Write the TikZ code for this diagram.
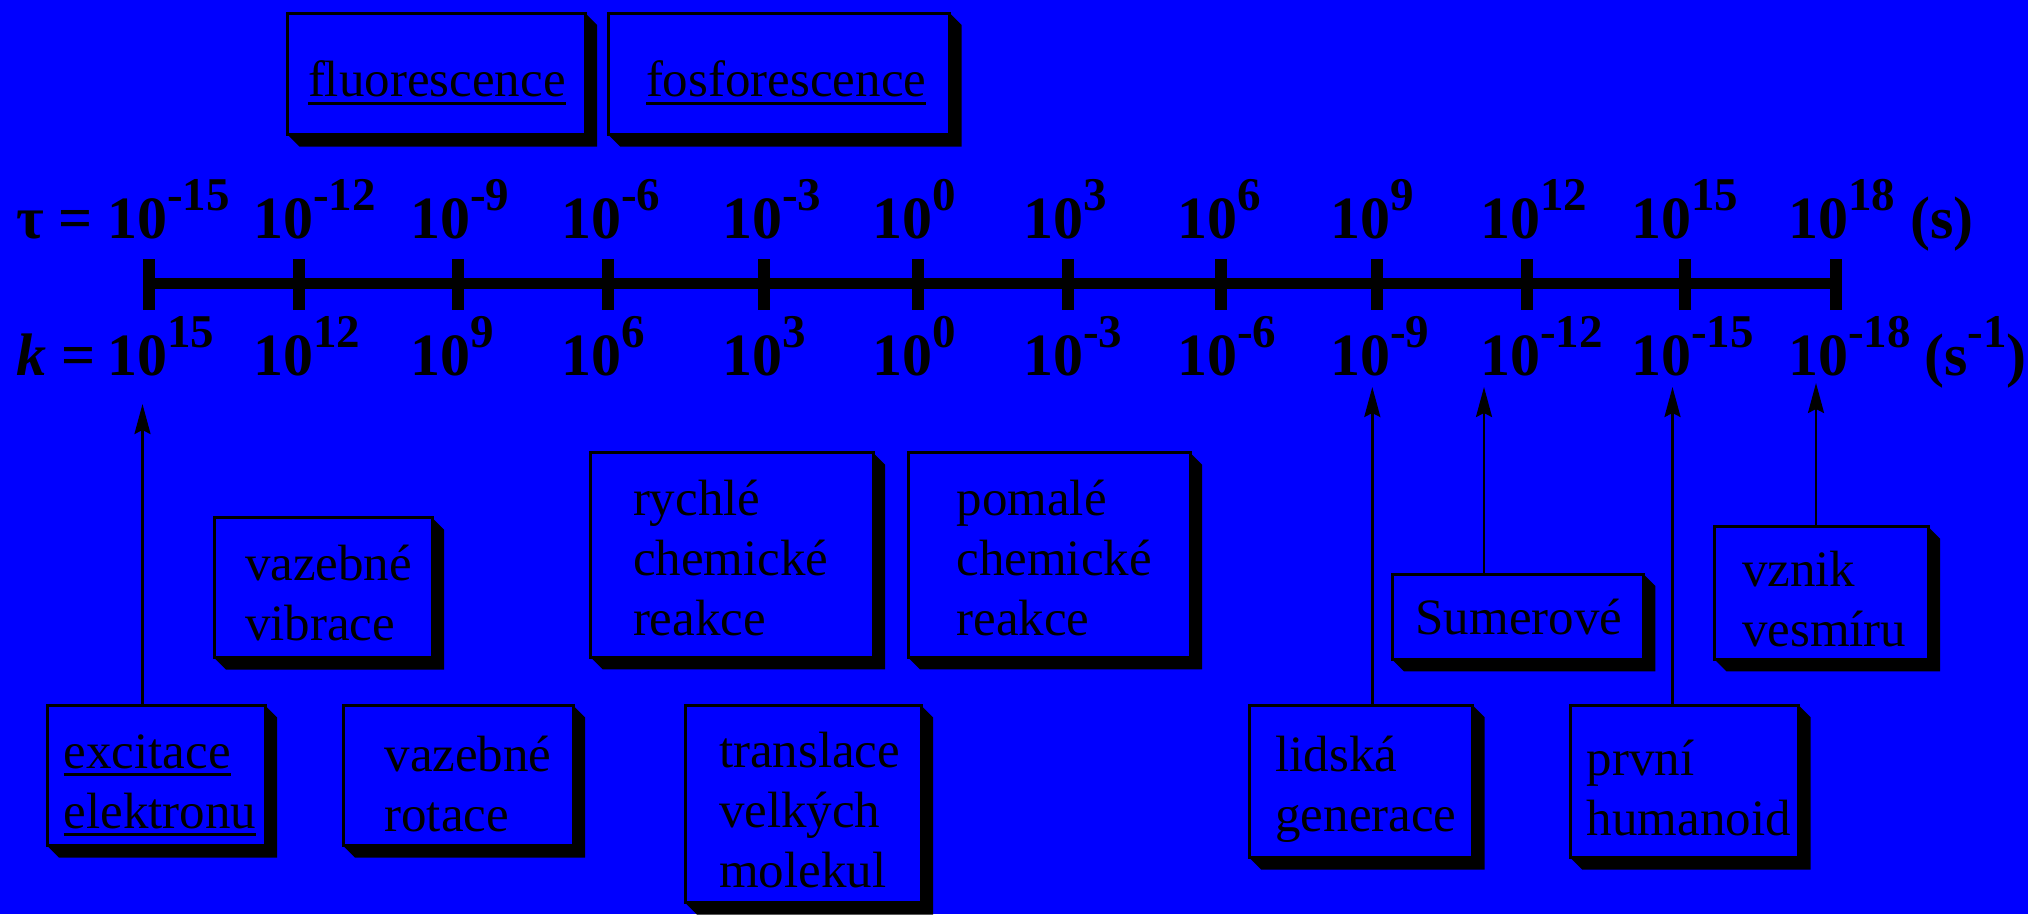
\documentclass[tikz,border=0pt]{standalone}
\usepackage{fontspec}
\setmainfont{Liberation Serif}
\usepackage{tikz}
\usetikzlibrary{arrows.meta,calc}
\definecolor{slide}{RGB}{0,0,255}
\newcommand{\boxfont}{\fontsize{51}{60}\selectfont}
\newcommand{\numfont}{\fontsize{60}{72}\selectfont\bfseries}
\newcommand{\sx}[1]{\raisebox{28pt}{\fontsize{47}{56}\selectfont #1}}
\newcommand{\uln}[1]{\leavevmode\setbox0\hbox{#1}\rlap{\rule[-8pt]{\wd0}{3pt}}\box0}
\newcommand{\boxshadow}[1]{\fill (#1.south west) -- ++(12,12) -| ($(#1.north east)+(12,12)$)
  -- (#1.north east) -- (#1.south east) -- cycle;}
\hyphenpenalty=10000
\hfuzz=200pt
\hbadness=10000
\tikzset{
  tbox/.style={draw,line width=3pt,fill=slide,anchor=north west,inner ysep=0pt,
               outer sep=0pt,align=left,font=\boxfont},
  conn/.style={-{Stealth[length=30pt,width=16pt,inset=4pt]},line width=2.5pt},
  num/.style={font=\numfont,inner sep=0pt,anchor=base west},
  axisline/.style={line width=11pt},
  tickmark/.style={line width=12pt},
}

\begin{document}
\begin{tikzpicture}[x=1pt,y=-1pt]
  \useasboundingbox (0,0) rectangle (2028,914);
  \fill[slide] (0,0) rectangle (2028,914);

  % time axis
  \draw[axisline] (143,283.5) -- (1836,283.5);
  \node[num] (tau) at (16,238) {τ =};
  \node[num] (k)   at (16,375) {{\itshape k} =};
  \foreach \t/\l/\a/\b [count=\i] in {149/107/-15/15, 299/253/-12/12, 458/410/-9/9,
      608/561/-6/6, 764/722/-3/3, 918/872/0/0, 1068/1023/3/-3, 1221/1177/6/-6,
      1377/1330/9/-9, 1527/1480/12/-12, 1685/1631/15/-15, 1836/1788/18/-18} {
    \draw[tickmark] (\t,259) -- (\t,310);
    \node[num] (tau\i) at (\l,238) {10\sx{\a}};
    \node[num] (k\i)   at (\l,375) {10\sx{\b}};
  }
  \node[num] (unit-tau) at (1910,238) {(s)};
  \node[num] (unit-k)   at (1924,375) {(s\sx{-1})};

  % processes
  \node[tbox,text width=256.5pt,inner xsep=20.5pt,text height=83.7pt,text depth=37.8pt]
    (fluor) at (287.5,13) {\uln{fluorescence}};
  \node[tbox,text width=265.5pt,inner xsep=38pt,text height=83.7pt,text depth=37.8pt]
    (fosfor) at (608,13) {\uln{fosforescence}};
  \node[tbox,text width=156pt,inner xsep=31pt,text height=62.5pt,text depth=77.5pt]
    (vibr) at (214,517.5) {vazebné\\vibrace};
  \node[tbox,text width=197.6pt,inner xsep=42.4pt,text height=62.3pt,text depth=142.3pt]
    (rychle) at (590.6,452.7) {rychlé\\chemické\\reakce};
  \node[tbox,text width=185pt,inner xsep=48.5pt,text height=62.3pt,text depth=142.3pt]
    (pomale) at (908,452.7) {pomalé\\chemické\\reakce};
  \node[tbox,text width=204.2pt,inner xsep=23.6pt,text height=60pt,text depth=25.3pt]
    (sumer) at (1392,574) {Sumerové};
  \node[tbox,text width=158.5pt,inner xsep=27.5pt,text height=60pt,text depth=72.6pt]
    (vznik) at (1714.5,526.7) {vznik\\vesmíru};
  \node[tbox,text width=184.6pt,inner xsep=16.7pt,text height=63pt,text depth=77.4pt]
    (excit) at (47,705.3) {\uln{excitace}\\\uln{elektronu}};
  \node[tbox,text width=147pt,inner xsep=41.5pt,text height=66.4pt,text depth=74pt]
    (rotace) at (343,705.3) {vazebné\\rotace};
  \node[tbox,text width=168pt,inner xsep=34pt,text height=62pt,text depth=135.4pt]
    (transl) at (685,705.3) {translace\\velkých\\molekul};
  \node[tbox,text width=171.2pt,inner xsep=26pt,text height=66.4pt,text depth=86pt]
    (lidska) at (1249.4,705.3) {lidská\\generace};
  \node[tbox,text width=195.5pt,inner xsep=16.4pt,text height=69.7pt,text depth=82.7pt]
    (prvni) at (1570.3,705.3) {první\\humanoid};

  \foreach \n in {fluor,fosfor,vibr,rychle,pomale,sumer,vznik,excit,rotace,transl,lidska,prvni}
    {\boxshadow{\n}}

  % pointers to the axis
  \coordinate (excit-tip)  at (142.5,404);
  \coordinate (lidska-tip) at (1372.3,387);
  \coordinate (sumer-tip)  at (1484,387);
  \coordinate (prvni-tip)  at (1672.5,387);
  \coordinate (vznik-tip)  at (1816,383);
  \draw[conn] (excit.north -| excit-tip) -- (excit-tip);
  \draw[conn] (lidska.north -| lidska-tip) -- (lidska-tip);
  \draw[conn] (sumer.north -| sumer-tip) -- (sumer-tip);
  \draw[conn] (prvni.north -| prvni-tip) -- (prvni-tip);
  \draw[conn] (vznik.north -| vznik-tip) -- (vznik-tip);
\end{tikzpicture}
\end{document}
